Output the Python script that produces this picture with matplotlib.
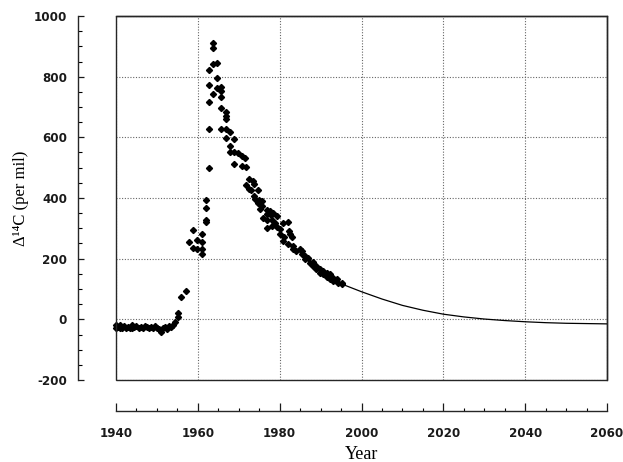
import matplotlib
matplotlib.use("Agg")
import matplotlib.pyplot as plt
from matplotlib.patches import Rectangle
from matplotlib.ticker import MultipleLocator

plt.rcParams["axes.unicode_minus"] = False

# ---- data ----
obs_years = [
    1940.0, 1940.0, 1940.5, 1941.0, 1941.0, 1941.5, 1942.0, 1942.5, 1943.0, 1943.5,
    1944.0, 1944.0, 1944.5, 1945.0, 1945.5, 1946.0, 1946.5, 1947.0, 1947.5, 1948.0,
    1948.5, 1949.0, 1949.5, 1950.0, 1950.5, 1951.0, 1951.5, 1952.0, 1952.5, 1953.0,
    1953.5, 1954.0,
    1954.4, 1955.1, 1955.2, 1956.0, 1957.0,
    1957.9, 1958.9, 1958.9, 1959.9, 1959.9, 1960.9, 1960.9, 1960.9, 1960.9,
    1961.9, 1961.9, 1961.9, 1961.9,
    1963.8, 1963.8, 1963.8, 1964.7, 1962.8, 1964.7, 1962.8, 1964.6, 1965.7, 1965.7,
    1963.8, 1965.7, 1962.8, 1965.7, 1966.8, 1966.8, 1966.8, 1962.8, 1965.7, 1966.8,
    1967.9, 1966.8, 1968.8, 1967.9, 1967.9, 1968.8, 1969.9, 1968.8, 1962.8,
    1970.7, 1971.5, 1970.9, 1971.8, 1972.6, 1973.4, 1973.7, 1971.8, 1972.6, 1972.9,
    1974.8, 1973.7, 1974.0, 1975.0, 1975.8, 1974.8, 1975.8, 1975.3, 1976.8, 1977.6,
    1978.4, 1976.8, 1976.0, 1977.8, 1979.3, 1977.0, 1978.1, 1978.9, 1980.9, 1982.1,
    1976.8, 1978.1, 1979.3, 1980.0, 1980.0, 1981.1, 1982.3, 1982.5, 1982.9, 1980.9,
    1982.1, 1983.2, 1983.3, 1984.1, 1985.0, 1985.4, 1986.2, 1987.0,
    1985.4, 1986.2, 1987.4, 1988.2, 1988.2, 1989.0, 1989.0, 1989.8, 1989.8, 1990.7,
    1990.7, 1991.5, 1991.5, 1992.3, 1992.3, 1993.1, 1993.1, 1993.9, 1994.3, 1995.2,
    1995.2,
]
obs_d14c = [
    -20, -30, -25, -20, -30, -27, -22, -28, -25, -30,
    -20, -28, -24, -22, -27, -25, -29, -23, -26, -28,
    -24, -30, -22, -27, -32, -42, -28, -25, -32, -22,
    -26, -18,
    -8, 8, 22, 72, 92,
    255, 294, 236, 261, 231, 280, 255, 232, 214,
    395, 368, 329, 321,
    912, 895, 842, 845, 823, 794, 772, 763, 766, 752,
    743, 732, 717, 697, 683, 670, 659, 626, 626, 629,
    619, 598, 593, 571, 552, 552, 549, 511, 500,
    538, 533, 507, 503, 464, 456, 445, 442, 431, 426,
    426, 406, 398, 395, 390, 384, 373, 365, 362, 357,
    352, 348, 335, 343, 340, 327, 326, 316, 318, 321,
    302, 307, 305, 297, 280, 272, 291, 280, 272, 258,
    247, 242, 231, 225, 231, 214, 209, 203,
    225, 198, 187, 189, 176, 176, 165, 165, 154, 159,
    148, 154, 141, 148, 134, 137, 126, 132, 121, 121,
    115,
]

proj_years = [1996, 2000, 2005, 2010, 2015, 2020, 2025, 2030, 2035, 2040,
              2045, 2050, 2055, 2060]
proj_d14c = [112, 91, 67, 46, 30, 17, 8, 1, -4, -8,
             -11, -13, -14, -15]

xticks = [1940, 1960, 1980, 2000, 2020, 2040, 2060]
yticks = [-200, 0, 200, 400, 600, 800, 1000]

# ---- figure ----
W, H, DPI = 623, 462, 100
fig = plt.figure(figsize=(W / DPI, H / DPI), dpi=DPI)
ax = fig.add_axes([116 / W, 1 - 380 / H, (607 - 116) / W, (380 - 16) / H])

ax.plot(obs_years, obs_d14c, linestyle="none", marker="D", ms=3.1,
        color="black", clip_on=False, zorder=3)
ax.plot(proj_years, proj_d14c, color="black", lw=0.9, zorder=3)

ax.set_xlim(1940, 2060)
ax.set_ylim(-200, 1000)
ax.set_xticks(xticks)
ax.set_yticks(yticks)
ax.xaxis.set_minor_locator(MultipleLocator(5))
ax.yaxis.set_minor_locator(MultipleLocator(50))

ax.grid(True, which="major", linestyle=(0, (1, 1.5)), color="0.4", lw=0.8)
ax.set_axisbelow(True)

# offset axis lines
ax.spines["left"].set_position(("outward", 27.7))
ax.spines["bottom"].set_position(("outward", 22.5))
for s in ["left", "bottom", "top", "right"]:
    ax.spines[s].set_linewidth(1.0)
    ax.spines[s].set_color("0.15")
ax.add_patch(Rectangle((0, 0), 1, 1, transform=ax.transAxes, fill=False,
                       lw=1.0, edgecolor="0.15", clip_on=False, zorder=4))

ax.tick_params(axis="y", which="major", direction="in", length=4.5, width=0.9,
               pad=7.5, colors="0.1")
ax.tick_params(axis="y", which="minor", direction="in", length=3, width=0.8)
ax.tick_params(axis="x", which="major", direction="in", length=5.5, width=0.9,
               pad=11, colors="0.1")
ax.tick_params(axis="x", which="minor", direction="in", length=2.5, width=0.8)
ax.tick_params(top=False, right=False, which="both")
for lab in ax.get_xticklabels() + ax.get_yticklabels():
    lab.set_fontfamily("DejaVu Sans")
    lab.set_fontweight("bold")
    lab.set_fontsize(8.6)

ax.set_xlabel("Year", family="Liberation Serif", fontsize=13)
ax.xaxis.set_label_coords(0.5, -0.205)
ax.xaxis.label.set_va("center")
ax.set_ylabel("Δ\u00b9\u2074C (per mil)", family="Liberation Serif", fontsize=12)
ax.yaxis.set_label_coords(-0.1935, 0.5)
ax.yaxis.label.set_va("center")

fig.savefig("out.png", dpi=DPI)
